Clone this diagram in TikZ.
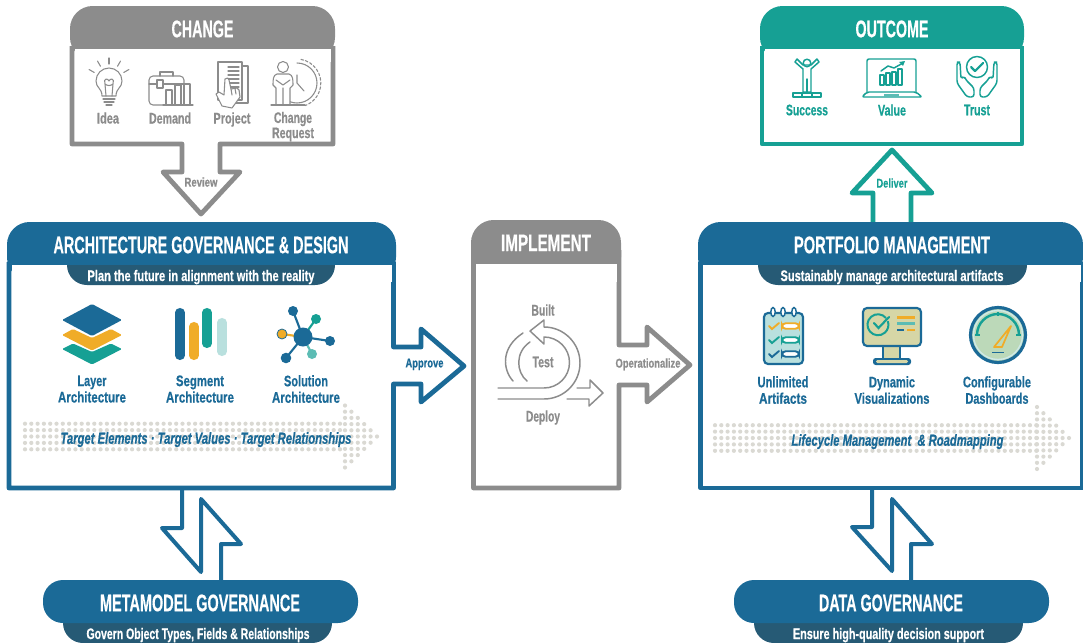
\documentclass[tikz,border=0pt]{standalone}
\usepackage{fontspec}
\usepackage{graphicx}
\setmainfont[BoldFeatures={FakeBold=0.5},BoldItalicFeatures={FakeBold=0.5}]{Liberation Sans}
\definecolor{cblue}{HTML}{1B6A97}
\definecolor{cdark}{HTML}{265A75}
\definecolor{cgray}{HTML}{8C8C8C}
\definecolor{cteal}{HTML}{16A094}
\definecolor{cyel}{HTML}{F0AC28}
\definecolor{clight}{HTML}{B9E0DE}
\definecolor{cdot}{HTML}{DAD9D3}
\definecolor{csand}{HTML}{D6D6A6}
\definecolor{cgreen}{HTML}{BCD9B9}
\newlength\fwl
\newcommand\fw[2]{\settowidth\fwl{#2}\pgfmathsetmacro\fwr{#1*0.75/\fwl}\vphantom{Ag}\scalebox{\fwr}[1]{#2}}
\tikzset{
  x=0.75pt,y=-0.75pt,
  title/.style={text=white,inner sep=0,yshift=-1.8pt,font=\bfseries\fontsize{18}{18}\selectfont},
  subt/.style={text=white,inner sep=0,yshift=-1.2pt,font=\bfseries\fontsize{11.5}{11}\selectfont},
  lab/.style={inner sep=0,align=center,yshift=-1.2pt,font=\bfseries\fontsize{11.5}{12.3}\selectfont},
  small/.style={inner sep=0,yshift=-1pt,font=\bfseries\fontsize{9.6}{10}\selectfont},
  ital/.style={inner sep=0,text=cblue,yshift=-1.2pt,font=\bfseries\itshape\fontsize{12}{12}\selectfont},
  frame/.style={line width=3.6pt,line join=round,fill=white},
  thin icon/.style={line width=0.8pt,line join=round,line cap=round},
  dotc/.style={fill=cdot,draw=none},
}
\newcommand\dotarrow[4]{% x start, number of columns, x of head column, y centre
  \foreach \k in {-2,...,2}{\foreach \i in {0,...,#2}{\fill[dotc] (#1+\i*6.3,#4+\k*6.4) circle (2.1);}}
  \foreach \c/\m in {0/5,1/4,2/3,3/2,4/1,5/0}{\foreach \k in {-\m,...,\m}{\fill[dotc] (#3+\c*6.4,#4+\k*6.2) circle (2.1);}}
}
\begin{document}
\begin{tikzpicture}
\useasboundingbox (0,0) rectangle (1083,643);
\clip (0,0) rectangle (1083,643);

% ---------- CHANGE
\draw[frame,draw=cgray] (72,46)--(72,144)--(182,144)--(182,172)--(163,172)--(201,214)--(240,172)--(220,172)--(220,144)--(333,144)--(333,46);
\fill[cgray,rounded corners=17] (70,60)--(70,6)--(335,6)--(335,60)--cycle;
\fill[white] (74.5,49) rectangle (330.5,62);
\node[title] (change) at (202.5,29) {\fw{62}{CHANGE}};
\node[lab,text=cgray] (idea) at (108,118) {\fw{22}{Idea}};
\node[lab,text=cgray] (demand) at (170,118) {\fw{42}{Demand}};
\node[lab,text=cgray] (project) at (232,118) {\fw{37}{Project}};
\node[lab,text=cgray,font=\bfseries\fontsize{11.5}{10}\selectfont] (creq) at (293,125) {\fw{38}{Change}\\\fw{42}{Request}};
\node[small,text=cgray] (review) at (201,182) {\fw{33}{Review}};
% bulb
\begin{scope}[thin icon]
\draw[cgray] (102,96) .. controls (102,88) and (96,88) .. (96,81) arc (180:360:13) .. controls (122,88) and (116,88) .. (116,96)--cycle;
\draw[cgray] (103,99)--(115,99) (104,102)--(114,102) (106,105)--(112,105);
\draw[cgray] (106,96)--(105,84) (112,96)--(113,84) (105,84) .. controls (103,78) and (108,78) .. (109,81) .. controls (110,78) and (115,78) .. (113,84) .. controls (111,86) and (107,86) .. (105,84);
\foreach \a in {30,60,90,120,150}{\draw[cgray] ({109+17*cos(\a)},{81-17*sin(\a)})--({109+23*cos(\a)},{81-23*sin(\a)});}
% briefcase
\draw[cgray] (184,100)--(184,80) arc (0:-90:4)--(153,76) arc (-90:-180:4)--(149,101) arc (180:90:4)--(165,105);
\draw[cgray] (160,76)--(160,72)--(173,72)--(173,76);
\draw[cgray] (149,84)--(158,84) (163,84)--(184,84);
\draw[cgray,fill=white] (157,80) rectangle (163,88);
\draw[cgray,fill=white] (166,90) rectangle (172,105) (175,85) rectangle (181,105) (184,84) rectangle (190,105);
\draw[cgray] (163,105)--(193,105);
% document
\draw[cgray,fill=white] (223,66) rectangle (248,103);
\draw[cgray,fill=white] (218,62) rectangle (242,100);
\foreach \yy in {67,71,75,79,83,87,91,95}{\draw[cgray] (228,\yy)--(239,\yy);}
\draw[cgray,fill=white] (225,79) .. controls (227,77) and (229,78) .. (229,80)--(231,89)--(237,88)--(239,90)--(240,97)--(232,108)--(222,106)--(216,94)--(219,92)--(224,95)--cycle;
\draw[cgray] (231,89)--(232,95) (235,88.5)--(236,94);
% person + clock
\draw[cgray] (297,63) arc (-90:130:20);
\draw[cgray,dash pattern=on 2pt off 1.5pt] (301,59.4) arc (-80:70:24);
\draw[cgray] (297,75)--(297,83)--(304,91);
\draw[cgray,fill=white] (277,74)--(289,74) .. controls (293,75) and (293,80) .. (293,85)--(290,88)--(290,105)--(276,105)--(276,88)--(273,85) .. controls (273,80) and (273,75) .. (277,74)--cycle;
\draw[cgray] (276,80)--(283,85)--(290,80) (283,88)--(283,105);
\draw[cgray,fill=white] (283,67) circle (5.5);
\draw[cgray] (271,105)--(305,105);
\end{scope}

% ---------- OUTCOME
\draw[frame,draw=cteal] (873,224)--(873,193)--(852,193)--(892,150)--(932,193)--(911,193)--(911,224);
\draw[frame,draw=cteal] (762,46)--(762,144)--(1022,144)--(1022,46);
\fill[cteal,rounded corners=17] (760,60)--(760,6)--(1024,6)--(1024,60)--cycle;
\fill[white] (764.5,49) rectangle (1019.5,62);
\node[title] (outcome) at (892,29) {\fw{73}{OUTCOME}};
\node[lab,text=cteal] (success) at (807,110) {\fw{42}{Success}};
\node[lab,text=cteal] (value) at (892,110) {\fw{28}{Value}};
\node[lab,text=cteal] (trust) at (977,110) {\fw{26}{Trust}};
\node[small,text=cteal] (deliver) at (892,183) {\fw{31}{Deliver}};
\begin{scope}[thin icon,line width=1.1pt]
% success
\draw[cteal] (807,63) circle (3.8);
\draw[cteal] (803,69)--(795,62)--(797,59)--(803,65)--(811,65)--(817,59)--(819,62)--(811,69)--(811,92)--(803,92)--cycle;
\draw[cteal] (807,79)--(807,92);
\draw[cteal] (793,93) rectangle (821,97);
\draw[cteal] (802,93) rectangle (812,97);
% laptop
\draw[cteal,rounded corners=1.5] (867,92)--(867,59)--(916,59)--(916,92);
\draw[cteal,rounded corners=1.5] (867,92)--(916,92)--(922,97)--(862,97)--cycle;
\fill[cteal!70] (884,94) rectangle (899,97);
\foreach \xx/\yy in {880/75,886/73,892/72,898/69}{\draw[cteal] (\xx,\yy) rectangle (\xx+4,85);}
\draw[cteal] (881,71)--(888,66)--(894,68)--(903,63);
\fill[cteal] (905,61)--(899,62)--(903,66)--cycle;
% trust
\draw[cteal] (977,67) circle (10.5);
\draw[cteal,line width=1.6pt] (971,67)--(975,71)--(983,63);
\foreach \s in {1,-1}{
\draw[cteal,rounded corners=2] ({977-\s*3},97)--({977-\s*3},88)--({977-\s*11},80)--({977-\s*13},76)--({977-\s*16},79)--({977-\s*17},62)--({977-\s*20},62)--({977-\s*20},83)--({977-\s*10},97)--cycle;
}
\end{scope}

% ---------- CONNECTOR ARROWS (bottom)
\begin{scope}[line width=3pt,line join=round]
\coordinate (a1) at (182,488); \coordinate (a2) at (221,582);
\draw[cblue,fill=white] (a1)--(182,528)--(162,528)--(201,572)--(201,499)--(241,544)--(221,544)--(a2);
\coordinate (b1) at (872,488); \coordinate (b2) at (911,582);
\draw[cblue,fill=white] (b1)--(872,527)--(852,527)--(892,571)--(892,499)--(932,544)--(911,544)--(b2);
\end{scope}

% ---------- ARCHITECTURE
\draw[frame,draw=cblue] (9,262)--(9,488)--(393.5,488)--(393.5,384)--(421,384)--(421,402)--(464,366)--(421,329)--(421,347)--(393.5,347)--(393.5,262);
\fill[cblue,rounded corners=17] (7,280)--(7,222)--(396,222)--(396,280)--cycle;
\fill[white] (11.5,265) rectangle (391.5,282);
\fill[cdark] (67,265) arc (180:90:20) -- (315,285) arc (90:0:20) -- cycle;
\node[title] (archt) at (201,245) {\fw{295}{ARCHITECTURE GOVERNANCE \& DESIGN}};
\node[subt] (archs) at (201,275.5) {\fw{227}{Plan the future in alignment with the reality}};
\node[lab,text=cblue] (l1) at (92,389) {\fw{29}{Layer}\\\fw{68}{Architecture}};
\node[lab,text=cblue] (l2) at (200,389) {\fw{48}{Segment}\\\fw{68}{Architecture}};
\node[lab,text=cblue] (l3) at (306,389) {\fw{44}{Solution}\\\fw{68}{Architecture}};
\node[small,text=cblue] (approve) at (424.5,363) {\fw{38}{Approve}};
% layers
\fill[cteal,rounded corners=1] (62,349)--(73,343.5)--(92,352)--(111,343.5)--(122,349)--(92,364.5)--cycle;
\fill[cyel,rounded corners=1] (62,335)--(73,329)--(92,338)--(111,329)--(122,335)--(92,350.5)--cycle;
\fill[cblue,rounded corners=1] (62,320)--(92,304)--(122,320)--(92,336)--cycle;
% segments
\foreach \xx/\a/\b/\c in {180/308/360/cblue,194/322/360/cyel,207/308/348/cteal,222/318/356/clight}{
  \draw[\c,line width=6.8pt,line cap=round] (\xx,\a+4.5)--(\xx,\b-4.5);}
% solution
\foreach \xx/\yy/\c/\r in {293/311/cblue/5,316/319/cteal/5,330/341/cblue/5,312/354/cteal!70/5,286/358/cblue/5.3,282/334/cyel/5}{
  \draw[\c,line width=1.6pt] (303,337)--(\xx,\yy);
  \fill[\c] (\xx,\yy) circle (\r);}
\draw[cblue,line width=0.6pt] (282,334) circle (5);
\fill[cblue] (303,337) circle (9.5);
\dotarrow{25}{50}{345}{436.5}
\node[ital] (archi) at (206,438) {\fw{291}{Target Elements · Target Values · Target Relationships}};

% ---------- IMPLEMENT
\draw[frame,draw=cgray] (473.5,250)--(473.5,488)--(619,488)--(619,385)--(647,385)--(647,402)--(690,365)--(647,327)--(647,345)--(619,345)--(619,250);
\fill[cgray,rounded corners=17] (471,280)--(471,220)--(621,220)--(621,280)--cycle;
\fill[white] (476,264) rectangle (616.5,282);
\node[title] (impl) at (546,243) {\fw{90}{IMPLEMENT}};
\node[lab,text=cgray] (built) at (543,310) {\fw{23}{Built}};
\node[lab,text=cgray] (test) at (543,362) {\fw{21}{Test}};
\node[lab,text=cgray] (deploy) at (543,416) {\fw{34}{Deploy}};
\node[small,text=cgray] (oper) at (648,363) {\fw{65}{Operationalize}};
\begin{scope}[line width=1.1pt,line join=round,line cap=round]
\draw[cgray] (498,399)--(544,399) arc (90:-90:36)--(544,320)--(530,331)--(544,344)--(544,337) arc (-90:90:25.5)--(498,388);
\draw[cgray] (523,333) .. controls (500,348) and (503,370) .. (513,381);
\draw[cgray] (530,342) .. controls (515,352) and (516,372) .. (527,381);
\draw[cgray] (577,388)--(590,388)--(590,380)--(603,393)--(589,406)--(589,399)--(567,399);
\end{scope}

% ---------- PORTFOLIO
\draw[frame,draw=cblue] (700.5,262)--(700.5,488)--(1082.5,488)--(1082.5,262);
\fill[cblue,rounded corners=17] (698,280)--(698,222)--(1083,222)--(1083,280)--cycle;
\fill[white] (702.5,265) rectangle (1081,282);
\fill[cdark] (758,265) arc (180:90:20) -- (1007,285) arc (90:0:20) -- cycle;
\node[title] (portt) at (892,245) {\fw{196}{PORTFOLIO MANAGEMENT}};
\node[subt] (ports) at (892,275.5) {\fw{223}{Sustainably manage architectural artifacts}};
\node[lab,text=cblue] (p1) at (783,390) {\fw{51}{Unlimited}\\\fw{48}{Artifacts}};
\node[lab,text=cblue] (p2) at (892,390) {\fw{46}{Dynamic}\\\fw{75}{Visualizations}};
\node[lab,text=cblue] (p3) at (997,390) {\fw{68}{Configurable}\\\fw{63}{Dashboards}};
% clipboard
\draw[cblue,fill=clight,line width=1.6pt,rounded corners=3] (764,313) rectangle (803,364);
\foreach \xx in {773,783,794}{\draw[cblue,fill=white,line width=1.1pt] (\xx,312) ellipse (2.2 and 4.5);}
\foreach \yy/\c in {326/cyel,340/cteal,354/cblue}{
  \draw[\c,line width=1.4pt,line cap=round] (769,\yy)--(772,\yy+3)--(779,\yy-3);
  \draw[\c,line width=1.4pt,fill=white,rounded corners=2.8] (782,\yy-2.8) rectangle (799,\yy+2.8);}
% monitor
\fill[cblue,rounded corners=2] (873,358) rectangle (911,365);
\fill[csand,rounded corners=1] (876,360) rectangle (908,363);
\draw[cblue,fill=csand,line width=1.6pt] (883,346) rectangle (900,359);
\draw[cblue,fill=csand,line width=1.6pt,rounded corners=3] (863,308) rectangle (921,346);
\draw[cteal,line width=1.5pt] (886,318) arc (-40:-380:10.5);
\draw[cteal,line width=1.6pt,line cap=round] (874,323)--(878.5,328)--(889,317);
\draw[cyel,line width=1.6pt] (897,317.5)--(915,317.5);
\draw[cteal!70,line width=1.6pt] (897,323.5)--(915,323.5);
\draw[cblue,line width=1.6pt] (897,330)--(904,330);
\draw[cyel,line width=1.6pt] (907,330)--(915,330);
% gauge
\draw[cblue,line width=2.4pt,fill=cgreen] (998,335) circle (27.5);
\draw[clight!70!white,line width=1pt] (998,335) circle (24.5);
\draw[cteal,line width=1.8pt] (977,335) arc (180:360:21);
\draw[cteal,line width=2pt] (975,335)--(980,335) (1016,335)--(1021,335) (998,312)--(998,316);
\draw[cyel,line width=1.3pt,line join=round,fill=cgreen] (1011,326)--(1002,347)--(994,347)--cycle;
\draw[cblue,line width=1.4pt] (992,352.5)--(1004,352.5);
\dotarrow{715}{51}{1037}{438}
\node[ital] (porti) at (897.5,440) {\fw{212}{Lifecycle Management \ \& Roadmapping}};

% ---------- METAMODEL
\fill[cdark] (63,620) -- (332,620) -- (332,623) arc (0:90:20) -- (83,643) arc (90:180:20) -- cycle;
\fill[cblue,rounded corners=15] (43,580) rectangle (358,623);
\node[title] (meta) at (200,603) {\fw{200}{METAMODEL GOVERNANCE}};
\node[subt] (metas) at (198,633.5) {\fw{223}{Govern Object Types, Fields \& Relationships}};

% ---------- DATA
\fill[cdark] (754,620) -- (1023,620) -- (1023,623) arc (0:90:20) -- (774,643) arc (90:180:20) -- cycle;
\fill[cblue,rounded corners=15] (734,580) rectangle (1049,623);
\node[title] (data) at (891,603) {\fw{144}{DATA GOVERNANCE}};
\node[subt] (datas) at (888.5,633.5) {\fw{191}{Ensure high-quality decision support}};
\end{tikzpicture}
\end{document}
